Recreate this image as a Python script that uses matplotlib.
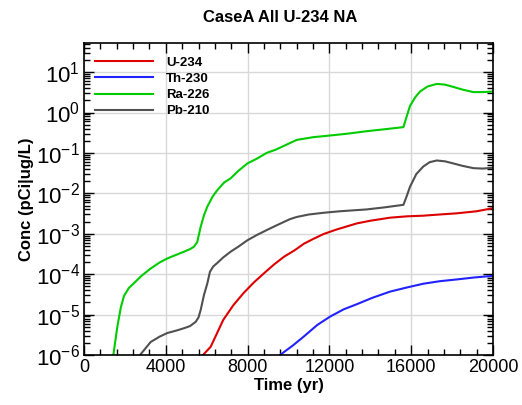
import numpy as np
import matplotlib
matplotlib.use("Agg")
import matplotlib.pyplot as plt
from matplotlib.ticker import MultipleLocator, FixedLocator, NullFormatter

plt.rcParams['font.family'] = ['Liberation Sans', 'DejaVu Sans']
plt.rcParams['mathtext.fontset'] = 'custom'
plt.rcParams['mathtext.rm'] = 'Liberation Sans'

# Concentration histories (pCi/ug/L) versus time (yr)
u234_t = [5820, 6195, 6810, 7300, 7800, 8300, 8800, 9300, 9780, 10300, 10760,
          11200, 11705, 12300, 13335, 14000, 14965, 15800, 16590, 17400, 18220,
          19200, 20000]
u234_c = [1.0e-6, 1.6e-6, 7.4e-6, 1.7e-5, 3.4e-5, 6.2e-5, 1.05e-4, 1.75e-4,
          2.7e-4, 3.9e-4, 5.7e-4, 7.4e-4, 9.8e-4, 1.25e-3, 1.8e-3, 2.1e-3,
          2.5e-3, 2.7e-3, 2.8e-3, 3.0e-3, 3.2e-3, 3.6e-3, 4.3e-3]

th230_t = [9585, 10200, 10725, 11400, 12030, 12700, 13335, 14100, 14965,
           15800, 16590, 17400, 18220, 19100, 20000]
th230_c = [1.0e-6, 1.7e-6, 2.8e-6, 5.5e-6, 8.9e-6, 1.35e-5, 1.8e-5, 2.6e-5,
           3.7e-5, 4.7e-5, 5.8e-5, 6.7e-5, 7.4e-5, 8.3e-5, 9.1e-5]

ra226_t = [1435, 1630, 1800, 1956, 2200, 2445, 2800, 3260, 3700, 4075, 4500,
           4890, 5200, 5380, 5540, 5705, 5870, 6030, 6300, 6520, 6850, 7170,
           7550, 7990, 8450, 8930, 9370, 9900, 10400, 11200, 12030, 12900,
           13825, 14700, 15620, 15780, 15940, 16200, 16430, 16800, 17250,
           17650, 18060, 18500, 19040, 19500, 20000]
ra226_c = [1.0e-6, 5.0e-6, 1.5e-5, 2.9e-5, 4.6e-5, 6.0e-5, 9.0e-5, 1.38e-4,
           1.95e-4, 2.45e-4, 3.0e-4, 3.6e-4, 4.2e-4, 4.8e-4, 6.3e-4, 1.48e-3,
           2.9e-3, 4.7e-3, 8.5e-3, 1.2e-2, 1.85e-2, 2.35e-2, 3.6e-2, 5.5e-2,
           7.2e-2, 1.0e-1, 1.2e-1, 1.6e-1, 2.1e-1, 2.45e-1, 2.7e-1, 3.0e-1,
           3.45e-1, 3.85e-1, 4.35e-1, 8.0e-1, 1.45, 2.4, 3.3, 4.4, 5.1, 4.9,
           4.3, 3.7, 3.2, 3.2, 3.3]

pb210_t = [2740, 3260, 3700, 4075, 4500, 4890, 5185, 5460, 5600, 5705, 5870,
           6030, 6160, 6320, 6520, 6810, 7170, 7550, 7990, 8450, 8930, 9400,
           10070, 10400, 11000, 11705, 12500, 13825, 14700, 15620, 15780,
           15940, 16250, 16590, 16900, 17250, 17650, 18060, 18500, 19040,
           19500, 20000]
pb210_c = [1.0e-6, 2.1e-6, 2.85e-6, 3.5e-6, 4.0e-6, 4.6e-6, 5.2e-6, 6.6e-6,
           8.5e-6, 1.3e-5, 3.1e-5, 5.9e-5, 1.15e-4, 1.55e-4, 1.9e-4, 2.6e-4,
           3.6e-4, 4.8e-4, 6.9e-4, 9.3e-4, 1.23e-3, 1.6e-3, 2.3e-3, 2.6e-3,
           3.0e-3, 3.3e-3, 3.6e-3, 4.0e-3, 4.5e-3, 5.2e-3, 8.5e-3, 1.45e-2,
           3.0e-2, 4.6e-2, 5.9e-2, 6.5e-2, 6.2e-2, 5.5e-2, 4.8e-2, 4.2e-2,
           4.1e-2, 4.3e-2]

series = [
    ("U-234", u234_t, u234_c, "#dd0000"),
    ("Th-230", th230_t, th230_c, "#2222ff"),
    ("Ra-226", ra226_t, ra226_c, "#00cc00"),
    ("Pb-210", pb210_t, pb210_c, "#505050"),
]

x_ticks = [0, 4000, 8000, 12000, 16000, 20000]
y_decades = [1e-6, 1e-5, 1e-4, 1e-3, 1e-2, 1e-1, 1e0, 1e1]

fig = plt.figure(figsize=(5.22, 4.05), dpi=100)
ax = fig.add_axes([84 / 522, 1 - 355 / 405, (493 - 84) / 522, (355 - 43) / 405])

for name, t, c, col in series:
    ax.plot(t, c, color=col, lw=1.5, label=name, solid_joinstyle='round')

ax.set_yscale('log')
ax.set_xlim(0, 20000)
ax.set_ylim(1e-6, 10 ** 1.72)

ax.set_xticks(x_ticks)
ax.set_xticklabels([str(v) for v in x_ticks])
ax.xaxis.set_minor_locator(MultipleLocator(800))
ax.yaxis.set_major_locator(FixedLocator(y_decades))
minor_y = [m * d for d in y_decades for m in range(2, 10) if m * d < 10 ** 1.72]
ax.yaxis.set_minor_locator(FixedLocator(minor_y))
ax.yaxis.set_minor_formatter(NullFormatter())

ax.grid(True, which='major', color='#d8d8d8', lw=1.0)
ax.set_axisbelow(True)

ax.tick_params(which='both', direction='in', top=True, right=True,
               labelsize=13, width=1.0, pad=3)
ax.tick_params(which='major', length=7)
ax.tick_params(which='minor', length=4)
ax.tick_params(axis='y', which='major', labelsize=16)

for sp in ax.spines.values():
    sp.set_linewidth(1.2)

ax.set_xlabel("Time (yr)", fontsize=12, fontweight='bold', labelpad=1)
ax.set_ylabel("Conc (pCi|ug/L)", fontsize=12, fontweight='bold', labelpad=1)
fig.text(280 / 522, 1 - 17 / 405, "CaseA All U-234 NA", fontsize=12,
         fontweight='bold', ha='center', va='center')

leg = ax.legend(loc='upper left', frameon=False, prop={'weight': 'bold', 'size': 9.5},
                handlelength=4.4, handletextpad=1.0, labelspacing=0.3,
                borderaxespad=0.4, bbox_to_anchor=(0.0, 0.99))

fig.savefig("out.png", dpi=100)
